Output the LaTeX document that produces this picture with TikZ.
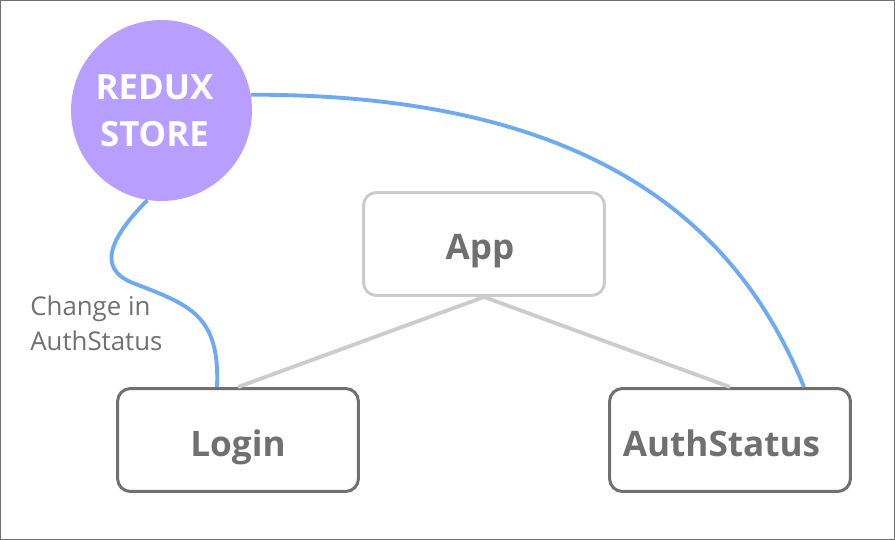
\documentclass[tikz,border=0pt]{standalone}
\usepackage{fontspec}
\setmainfont{Open Sans}
\usetikzlibrary{positioning, calc}
\definecolor{storepurple}{HTML}{B89EFF}
\definecolor{flowblue}{HTML}{6EA9F3}
\definecolor{boxgray}{HTML}{707070}
\definecolor{linkgray}{HTML}{CCCCCC}

\begin{document}
\begin{tikzpicture}[x=0.02cm, y=-0.02cm,
  comp/.style={rectangle, rounded corners=0.26cm, draw=boxgray, line width=1.7pt, minimum width=4.82cm, minimum height=2.06cm, text height=0.72cm, text depth=0.08cm, text=boxgray, font=\bfseries\fontsize{20}{24}\selectfont},
  link/.style={draw=linkgray, line width=2.2pt},
  flow/.style={draw=flowblue, line width=2.2pt}]

\useasboundingbox (0,0) rectangle (895,540);
\draw[boxgray, line width=0.85pt] (0.75,0.75) rectangle (894.25,539.25);

\node[circle, minimum size=3.62cm, inner sep=0pt, fill=storepurple, text=white, align=center, font=\bfseries\fontsize{19.8}{27}\selectfont] (s) at (161.5,110.5) {REDUX\kern0.28cm\\STORE\kern0.28cm};

\node[comp, draw=linkgray] (a) at (484,244) {App\kern0.16cm};
\node[comp] (l) at (238,440) {Login};
\node[comp] (u) at (730,440) {AuthStatus\kern0.34cm};

\draw[link] (a.south) -- (l.north);
\draw[link] (a.south) -- (u.north);

\draw[flow] (s.-99) .. controls (112,236) and (95,268) .. (133,283) .. controls (190,305) and (220,315) .. ($(l.north)+(-21,0)$);
\draw[flow] (s.10) .. controls (600,94) and (740,230) .. ($(u.north)+(74,0)$);

\node[anchor=west, inner sep=0pt, align=left, text=boxgray, font=\fontsize{14.7}{19.8}\selectfont] (c) at (30,323) {Change in\\AuthStatus};

\end{tikzpicture}
\end{document}
